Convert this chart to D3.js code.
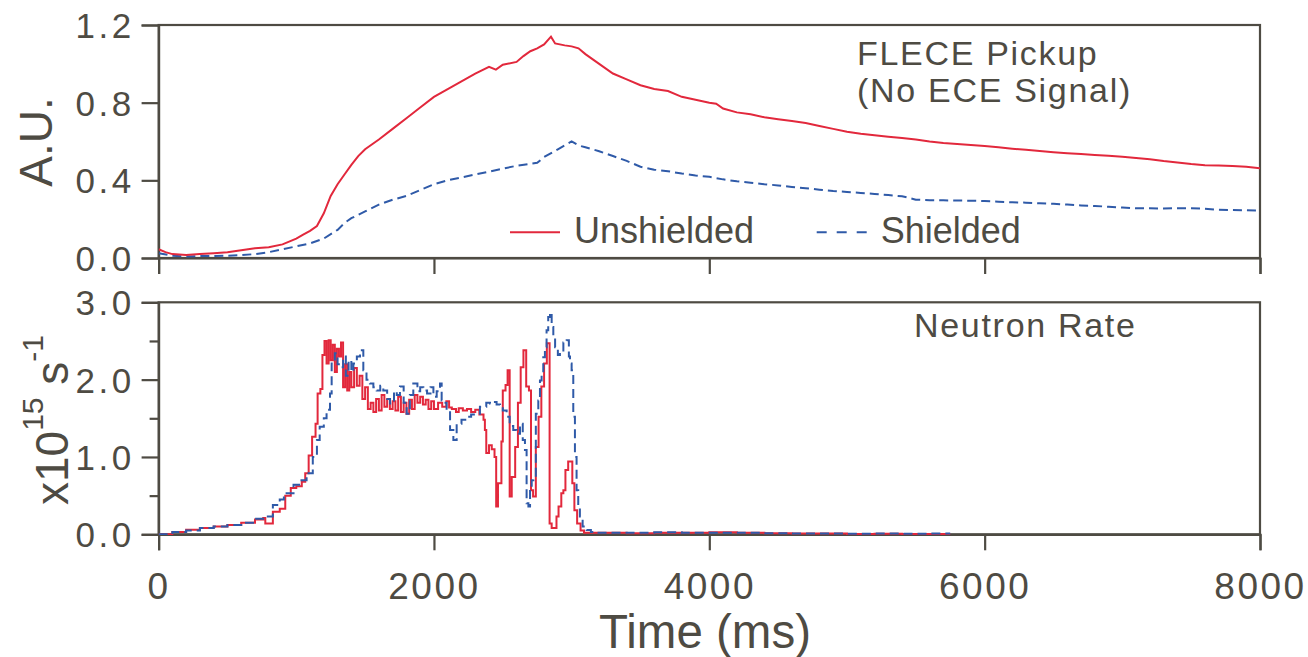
<!DOCTYPE html>
<html><head><meta charset="utf-8">
<script src="https://cdn.jsdelivr.net/npm/d3@7"></script>
<style>body{margin:0;background:#fff}svg{display:block}text{font-family:"Liberation Sans",Arial,sans-serif;fill:#4e4b43}</style>
</head><body><svg id="c" width="1308" height="657"></svg>
<script>
// ---------- data ----------
const xTicks = [0, 2000, 4000, 6000, 8000];
const eceYTicks = [0.0, 0.4, 0.8, 1.2];
const neuYTicks = [0.0, 1.0, 2.0, 3.0];
const neuYMinor = [0.5, 1.5, 2.5];
const seriesNames = ["Unshielded", "Shielded"];

const eceTimeU = [0,50,100,200,300,400,500,600,700,800,900,1000,1050,1100,1150,1200,1250,1300,1350,1400,1450,1500,1600,1700,1800,1900,2000,2100,2200,2300,2400,2450,2500,2600,2650,2700,2750,2800,2850,2880,2950,3000,3050,3100,3200,3300,3400,3500,3600,3700,3800,3900,4000,4050,4100,4200,4300,4400,4500,4600,4700,4800,4900,5000,5100,5200,5300,5400,5500,5600,5700,5800,5900,6000,6100,6200,6300,6400,6500,6600,6700,6800,6900,7000,7100,7200,7300,7400,7500,7600,7700,7800,7900,8000];
const eceUnshielded = [0.045,0.03,0.02,0.015,0.02,0.025,0.03,0.04,0.05,0.055,0.07,0.10,0.12,0.14,0.165,0.23,0.32,0.38,0.43,0.48,0.525,0.56,0.61,0.665,0.72,0.775,0.83,0.87,0.91,0.95,0.985,0.97,0.995,1.01,1.04,1.065,1.08,1.10,1.14,1.105,1.095,1.09,1.08,1.05,1.00,0.95,0.92,0.89,0.87,0.86,0.83,0.815,0.80,0.795,0.77,0.75,0.74,0.725,0.715,0.705,0.695,0.68,0.665,0.65,0.64,0.632,0.625,0.618,0.61,0.60,0.592,0.587,0.582,0.577,0.570,0.563,0.557,0.551,0.545,0.540,0.535,0.531,0.526,0.521,0.515,0.508,0.499,0.492,0.484,0.478,0.476,0.474,0.470,0.462];

const eceTimeS = [0,100,200,300,400,500,600,700,800,900,1000,1100,1200,1300,1350,1400,1500,1600,1700,1800,1900,2000,2100,2200,2300,2400,2500,2600,2700,2750,2800,2900,3000,3050,3100,3200,3300,3400,3500,3600,3700,3800,3900,4000,4100,4200,4300,4400,4500,4600,4700,4800,4900,5000,5100,5200,5300,5400,5450,5500,5600,5700,5800,5900,6000,6100,6200,6300,6400,6500,6600,6700,6800,6900,7000,7100,7200,7300,7400,7500,7600,7700,7800,7900,8000];
const eceShielded = [0.025,0.012,0.008,0.01,0.01,0.012,0.015,0.02,0.03,0.045,0.06,0.075,0.10,0.145,0.18,0.205,0.24,0.275,0.30,0.32,0.35,0.38,0.40,0.415,0.43,0.445,0.46,0.475,0.485,0.49,0.52,0.56,0.60,0.58,0.57,0.55,0.525,0.50,0.47,0.455,0.447,0.435,0.425,0.418,0.405,0.395,0.388,0.38,0.374,0.366,0.359,0.352,0.345,0.34,0.335,0.33,0.324,0.318,0.31,0.30,0.298,0.297,0.296,0.295,0.293,0.29,0.287,0.285,0.282,0.279,0.275,0.271,0.268,0.264,0.26,0.256,0.256,0.255,0.256,0.256,0.254,0.248,0.247,0.246,0.244];

const neuTimeU = [0,100,200,300,400,500,600,700,760,775,830,880,920,960,1000,1040,1065,1090,1115,1140,1155,1175,1190,1205,1220,1235,1250,1265,1280,1295,1310,1325,1340,1355,1370,1385,1400,1420,1440,1460,1480,1500,1520,1540,1560,1580,1600,1620,1640,1660,1680,1700,1720,1740,1760,1780,1800,1820,1840,1860,1880,1900,1920,1940,1960,1980,2000,2030,2060,2090,2110,2130,2160,2180,2210,2240,2270,2300,2330,2360,2370,2380,2400,2420,2440,2452,2465,2490,2500,2520,2535,2550,2565,2590,2610,2630,2650,2670,2690,2705,2720,2740,2760,2780,2800,2820,2840,2855,2890,2905,2925,2940,2955,2975,3005,3020,3040,3065,3090,3200,3400,3600,3800,4000,4200,4400,4600,4800,5000,5200,5400,5600,5750];
const neuUnshielded = [0.0,0.03,0.06,0.08,0.10,0.12,0.15,0.19,0.21,0.14,0.29,0.33,0.50,0.60,0.62,0.68,0.79,1.02,1.26,1.43,1.82,1.88,2.32,2.50,2.21,2.51,2.25,2.45,2.10,2.40,2.30,2.48,1.90,2.20,1.86,2.10,1.90,2.15,1.92,2.05,1.75,1.90,1.62,1.70,1.58,1.75,1.60,1.80,1.65,1.75,1.62,1.72,1.60,1.78,1.58,1.70,1.56,1.74,1.62,1.80,1.70,1.78,1.68,1.74,1.62,1.72,1.62,1.70,1.65,1.72,1.64,1.62,1.58,1.63,1.60,1.62,1.58,1.61,1.55,1.48,1.35,1.05,1.15,1.10,1.00,0.36,0.66,1.20,1.86,1.93,2.12,0.49,0.74,1.13,1.70,2.16,2.38,1.91,1.86,0.57,0.49,1.13,1.52,1.91,2.21,2.47,0.14,0.08,0.23,0.36,0.53,0.57,0.83,0.94,0.66,0.31,0.14,0.05,0.02,0.02,0.015,0.02,0.02,0.025,0.02,0.015,0.01,0.01,0.005,0.008,0.005,0.005,0.005];

const neuTimeS = [0,100,200,300,400,500,600,700,785,830,880,910,980,1030,1075,1120,1150,1170,1200,1220,1245,1257,1280,1300,1320,1340,1360,1380,1400,1415,1440,1463,1487,1510,1535,1560,1584,1610,1632,1660,1681,1710,1730,1753,1780,1802,1825,1850,1880,1900,1923,1950,1975,1996,2020,2044,2056,2075,2092,2117,2141,2165,2200,2238,2270,2310,2334,2358,2380,2407,2431,2455,2480,2500,2528,2550,2576,2600,2625,2645,2661,2673,2686,2698,2710,2722,2740,2758,2770,2782,2794,2806,2818,2830,2843,2855,2867,2880,2900,2915,2940,2964,2980,2988,3000,3012,3024,3036,3048,3060,3080,3109,3140,3180,3400,3600,3800,4000,4200,4400,4600,4800,5000,5200,5400,5600,5750];
const neuShielded = [0.0,0.03,0.05,0.08,0.10,0.12,0.15,0.20,0.23,0.38,0.45,0.53,0.64,0.70,0.79,1.00,1.22,1.39,1.50,1.61,1.82,2.21,2.34,2.20,2.16,2.30,2.05,2.25,2.10,2.21,2.30,2.38,2.12,2.00,1.95,1.90,1.86,1.92,1.86,1.75,1.69,1.85,1.80,1.91,1.70,1.56,1.80,1.95,1.85,1.90,1.86,1.82,1.90,1.78,1.85,1.95,1.73,1.70,1.61,1.35,1.22,1.43,1.48,1.52,1.55,1.56,1.65,1.65,1.70,1.69,1.71,1.68,1.65,1.60,1.52,1.40,1.35,1.30,1.43,1.22,1.09,0.40,0.36,0.61,0.70,0.74,1.56,1.73,1.99,2.08,2.29,2.42,2.64,2.81,2.87,2.68,2.55,2.42,2.32,2.35,2.48,2.51,2.30,2.21,2.12,1.52,1.00,0.57,0.35,0.23,0.10,0.055,0.03,0.02,0.02,0.025,0.02,0.02,0.02,0.015,0.01,0.01,0.008,0.01,0.008,0.01,0.01];

// ---------- chart ----------
const INK = "#4e4b43", RED = "#e2283c", BLUE = "#2f5aa8";
const svg = d3.select("#c");
const x = d3.scaleLinear().domain([0, 8000]).range([158.6, 1260]);
const yT = d3.scaleLinear().domain([0, 1.2]).range([258, 25]);
const yB = d3.scaleLinear().domain([0, 3]).range([534.3, 302.3]);

const defs = svg.append("defs");
defs.append("clipPath").attr("id","clipT").append("rect").attr("x",158.6).attr("y",24).attr("width",1101.4).attr("height",235);
defs.append("clipPath").attr("id","clipB").append("rect").attr("x",158.6).attr("y",301).attr("width",1101.4).attr("height",234);

function frame(y) {
  const [y0, y1] = y.range();
  svg.append("rect").attr("x", x(0)).attr("y", y1).attr("width", x(8000) - x(0)).attr("height", y0 - y1)
    .attr("fill", "none").attr("stroke", INK).attr("stroke-width", 2.2);
}
function styleAxis(g) {
  g.select(".domain").attr("stroke", INK).attr("stroke-width", 2.2);
  g.selectAll(".tick line").attr("stroke", INK).attr("stroke-width", 2.2);
  g.selectAll("text").attr("fill", INK).attr("font-family", '"Liberation Sans", Arial, sans-serif');
}

// top panel
frame(yT);
const gxT = svg.append("g").attr("transform", `translate(0,${yT(0)})`)
  .call(d3.axisBottom(x).tickValues(xTicks).tickSize(16).tickFormat(""));
styleAxis(gxT);
const gyT = svg.append("g").attr("transform", `translate(${x(0)},0)`)
  .call(d3.axisLeft(yT).tickValues(eceYTicks).tickSize(17).tickPadding(10).tickFormat(d3.format(".1f")));
styleAxis(gyT);
gyT.selectAll("text").attr("font-size", 35).attr("letter-spacing", "3.5px").attr("dy", "0.36em").attr("x", -24);

// bottom panel
frame(yB);
const gxB = svg.append("g").attr("transform", `translate(0,${yB(0)})`)
  .call(d3.axisBottom(x).tickValues(xTicks).tickSize(16).tickPadding(22).tickFormat(d3.format("d")));
styleAxis(gxB);
gxB.selectAll("text").attr("font-size", 37).attr("letter-spacing", "2.5px").attr("dx", "0px");
const gyB = svg.append("g").attr("transform", `translate(${x(0)},0)`)
  .call(d3.axisLeft(yB).tickValues(neuYTicks).tickSize(17).tickFormat(d3.format(".1f")));
styleAxis(gyB);
gyB.selectAll("text").attr("font-size", 35).attr("letter-spacing", "3.5px").attr("dy", "0.36em").attr("x", -24);
const gyBm = svg.append("g").attr("transform", `translate(${x(0)},0)`)
  .call(d3.axisLeft(yB).tickValues(neuYMinor).tickSize(9).tickFormat(""));
styleAxis(gyBm);
gyBm.select(".domain").remove();

// lines
const zip = (ts, vs) => ts.map((t, i) => [t, vs[i]]);
const lineT = d3.line().x(d => x(d[0])).y(d => yT(d[1]));
const lineB = d3.line().x(d => x(d[0])).y(d => yB(d[1])).curve(d3.curveStepAfter);
const gT = svg.append("g").attr("clip-path", "url(#clipT)");
gT.append("path").attr("d", lineT(zip(eceTimeS, eceShielded))).attr("fill","none").attr("stroke",BLUE).attr("stroke-width",2).attr("stroke-dasharray","9,5");
gT.append("path").attr("d", lineT(zip(eceTimeU, eceUnshielded))).attr("fill","none").attr("stroke",RED).attr("stroke-width",2);
const gB = svg.append("g").attr("clip-path", "url(#clipB)");
gB.append("path").attr("d", lineB(zip(neuTimeU, neuUnshielded))).attr("fill","none").attr("stroke",RED).attr("stroke-width",2);
gB.append("path").attr("d", lineB(zip(neuTimeS, neuShielded))).attr("fill","none").attr("stroke",BLUE).attr("stroke-width",2).attr("stroke-dasharray","9,5");

// annotations
svg.append("text").attr("x", 857).attr("y", 65).attr("font-size", 34).attr("letter-spacing","1.7px").text("FLECE Pickup");
svg.append("text").attr("x", 857).attr("y", 101.5).attr("font-size", 34).attr("letter-spacing","1.7px").text("(No ECE Signal)");
svg.append("text").attr("x", 914).attr("y", 336.5).attr("font-size", 34).attr("letter-spacing","1.7px").text("Neutron Rate");

// legend
svg.append("line").attr("x1",510).attr("x2",560).attr("y1",232.3).attr("y2",232.3).attr("stroke",RED).attr("stroke-width",2);
svg.append("text").attr("x",574).attr("y",242.7).attr("font-size",36).text(seriesNames[0]);
svg.append("line").attr("x1",816.7).attr("x2",866.7).attr("y1",232.3).attr("y2",232.3).attr("stroke",BLUE).attr("stroke-width",2).attr("stroke-dasharray","10,10");
svg.append("text").attr("x",880.7).attr("y",242.7).attr("font-size",36).text(seriesNames[1]);

// axis titles
svg.append("text").attr("transform","translate(52,142) rotate(-90)").attr("text-anchor","middle").attr("font-size",46).text("A.U.");
const yl = svg.append("text").attr("transform","translate(68,420) rotate(-90)").attr("text-anchor","middle").attr("font-size",46);
yl.append("tspan").text("x10");
yl.append("tspan").attr("dy",-25).attr("font-size",30).text("15");
yl.append("tspan").attr("dy",25).text(" s");
yl.append("tspan").attr("dy",-25).attr("font-size",30).text("-1");
svg.append("text").attr("x",705).attr("y",648).attr("text-anchor","middle").attr("font-size",47.5).text("Time (ms)");
</script></body></html>
